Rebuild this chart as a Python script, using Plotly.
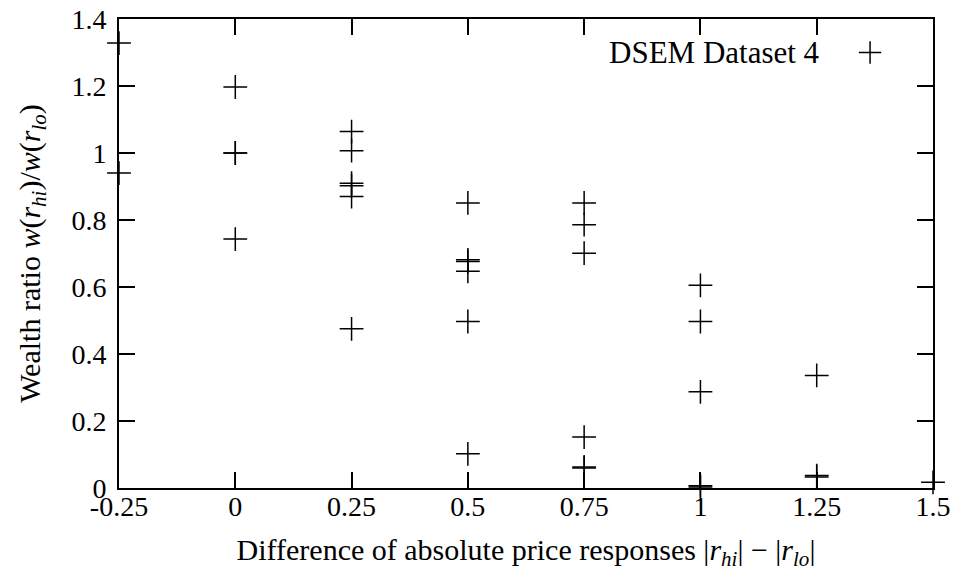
import plotly.graph_objects as go

# Data
x_vals = [-0.25, -0.25,
          0, 0, 0, 0,
          0.25, 0.25, 0.25, 0.25, 0.25, 0.25,
          0.5, 0.5, 0.5, 0.5, 0.5, 0.5,
          0.75, 0.75, 0.75, 0.75, 0.75, 0.75,
          1, 1, 1, 1, 1,
          1.25, 1.25, 1.25,
          1.5]
y_vals = [1.328, 0.940,
          1.197, 1.0, 1.0, 0.743,
          1.064, 1.007, 0.910, 0.902, 0.870, 0.475,
          0.851, 0.681, 0.676, 0.647, 0.497, 0.102,
          0.851, 0.786, 0.701, 0.152, 0.063, 0.060,
          0.605, 0.497, 0.287, 0.007, 0.003,
          0.336, 0.037, 0.033,
          0.017]
x_ticks = [-0.25, 0, 0.25, 0.5, 0.75, 1, 1.25, 1.5]
x_tick_labels = ["-0.25", "0", "0.25", "0.5", "0.75", "1", "1.25", "1.5"]
y_ticks = [0, 0.2, 0.4, 0.6, 0.8, 1, 1.2, 1.4]
y_tick_labels = ["0", "0.2", "0.4", "0.6", "0.8", "1", "1.2", "1.4"]
series_name = "DSEM Dataset 4"

FONT = "Liberation Serif"
FS = 28
fig = go.Figure()
fig.add_trace(go.Scatter(
    x=x_vals, y=y_vals, mode="markers", name=" ",
    marker=dict(symbol="cross-thin", size=17, color="black",
                line=dict(color="black", width=1.5)),
    cliponaxis=False, showlegend=True,
))

axis_common = dict(
    showgrid=False, zeroline=False, showline=True, linecolor="black", linewidth=2,
    mirror="ticks", ticks="inside", ticklen=16, tickwidth=2, tickcolor="black",
    tickfont=dict(family=FONT, size=FS, color="black"), automargin=False,
)
fig.update_xaxes(range=[-0.25, 1.5], tickvals=x_ticks, ticktext=x_tick_labels,
                 ticklabelstandoff=-8,
                 title=dict(text="Difference of absolute price responses |<i>r</i><sub><i>hi</i></sub>| − |<i>r</i><sub><i>lo</i></sub>|",
                            font=dict(family=FONT, size=30, color="black"), standoff=18),
                 **axis_common)
fig.update_yaxes(range=[0, 1.4], tickvals=y_ticks, ticktext=y_tick_labels,
                 ticklabelstandoff=5,
                 title=dict(text="Wealth ratio <i>w</i>(<i>r</i><sub><i>hi</i></sub>)/<i>w</i>(<i>r</i><sub><i>lo</i></sub>)",
                            font=dict(family=FONT, size=30, color="black"), standoff=22),
                 **axis_common)

fig.add_annotation(text=series_name, xref="paper", yref="paper", x=0.864, y=0.928,
                   xanchor="right", yanchor="middle", showarrow=False,
                   font=dict(family=FONT, size=31, color="black"))

fig.update_layout(
    width=954, height=572,
    margin=dict(l=119, r=21, t=19, b=84),
    plot_bgcolor="white", paper_bgcolor="white",
    legend=dict(x=0.962, y=0.928, xanchor="right", yanchor="middle",
                bgcolor="rgba(0,0,0,0)", font=dict(family=FONT, size=FS),
                itemwidth=30),
    showlegend=True,
)
fig.write_html("out.html", config={"displayModeBar": False},
               post_script="document.body.style.margin='0';")
